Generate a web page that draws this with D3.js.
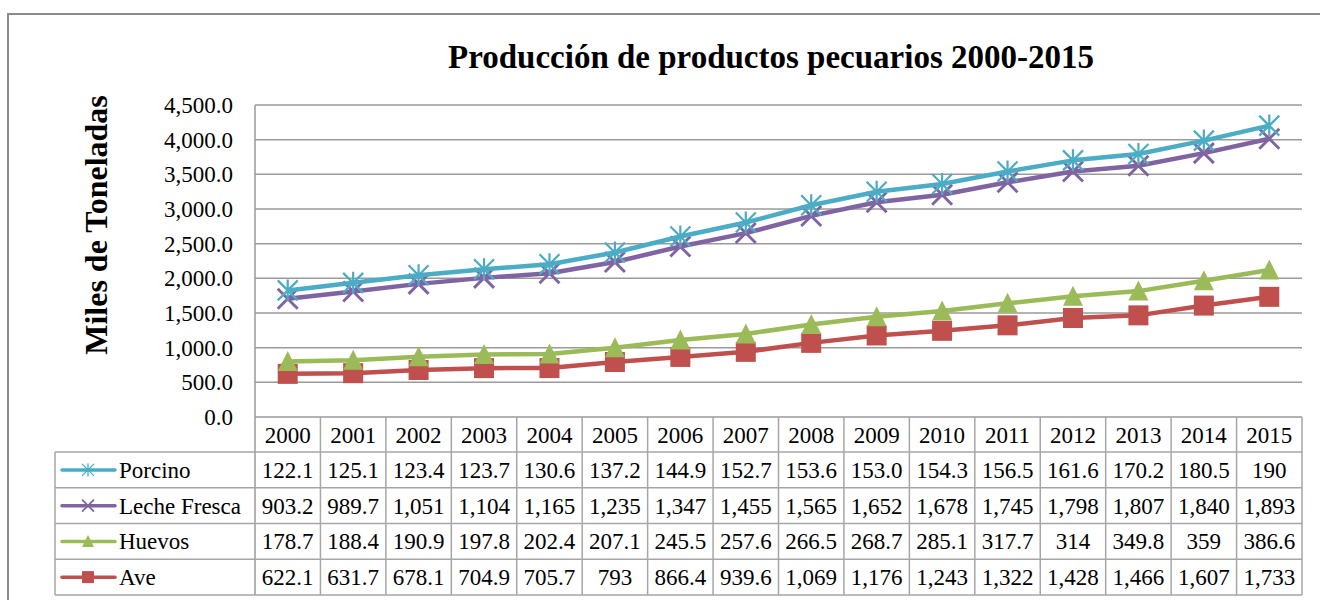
<!DOCTYPE html>
<html>
<head>
<meta charset="utf-8">
<script src="https://cdn.jsdelivr.net/npm/d3@7"></script>
<style>
  body { margin: 0; background: #fff; }
  svg { display: block; font-family: "Liberation Serif", "Times New Roman", serif; }
</style>
</head>
<body>
<script>
var width = 1320, height = 600

// data, as printed in the chart's data table
var years = ["2000", "2001", "2002", "2003", "2004", "2005", "2006", "2007",
             "2008", "2009", "2010", "2011", "2012", "2013", "2014", "2015"]
var porcino = ["122.1", "125.1", "123.4", "123.7", "130.6", "137.2", "144.9", "152.7",
               "153.6", "153.0", "154.3", "156.5", "161.6", "170.2", "180.5", "190"]
var lecheFresca = ["903.2", "989.7", "1,051", "1,104", "1,165", "1,235", "1,347", "1,455",
                   "1,565", "1,652", "1,678", "1,745", "1,798", "1,807", "1,840", "1,893"]
var huevos = ["178.7", "188.4", "190.9", "197.8", "202.4", "207.1", "245.5", "257.6",
              "266.5", "268.7", "285.1", "317.7", "314", "349.8", "359", "386.6"]
var ave = ["622.1", "631.7", "678.1", "704.9", "705.7", "793", "866.4", "939.6",
           "1,069", "1,176", "1,243", "1,322", "1,428", "1,466", "1,607", "1,733"]
var yTicks = [0, 500, 1000, 1500, 2000, 2500, 3000, 3500, 4000, 4500]

var series = [
    {key: "Porcino", labels: porcino, color: "#4BACC6", marker: "star"},
    {key: "Leche Fresca", labels: lecheFresca, color: "#8064A2", marker: "x"},
    {key: "Huevos", labels: huevos, color: "#9BBB59", marker: "triangle"},
    {key: "Ave", labels: ave, color: "#C0504D", marker: "square"}
]

function num(s) { return +s.replace(/,/g, "") }

// table rows for d3.stack (Ave at the bottom, Porcino on top)
var rows = years.map(function(y, i) {
    var r = {year: y}
    series.forEach(function(s) { r[s.key] = num(s.labels[i]) })
    return r
})
var stackKeys = series.map(function(s) { return s.key }).reverse()
var stacked = d3.stack().keys(stackKeys)(rows)

var plot = {left: 255, right: 1302, top: 105, bottom: 417}
var tableLeft = 55, rowTop = 452, tableBottom = 595
var rowH = (tableBottom - rowTop) / series.length

var x = d3.scaleBand()
    .domain(years)
    .range([plot.left, plot.right])
var y = d3.scaleLinear()
    .domain([0, 4500])
    .range([plot.bottom, plot.top])

var svg = d3.select("body").append("svg")
    .attr("width", width)
    .attr("height", height)

// outer frame
svg.append("path")
    .attr("d", "M8," + height + "V14H" + width)
    .attr("fill", "none")
    .attr("stroke", "#8c8c8c")
    .attr("stroke-width", 2)

svg.append("text")
    .attr("x", 771)
    .attr("y", 68)
    .attr("text-anchor", "middle")
    .attr("font-size", 33)
    .attr("font-weight", "bold")
    .text("Producción de productos pecuarios 2000-2015")

svg.append("text")
    .attr("transform", "translate(107," + 225 + ") rotate(-90)")
    .attr("text-anchor", "middle")
    .attr("font-size", 32)
    .attr("font-weight", "bold")
    .text("Miles de Toneladas")

// gridlines + y labels
var grid = svg.append("g")
grid.selectAll("line")
    .data(yTicks)
    .enter().append("line")
    .attr("x1", plot.left)
    .attr("x2", plot.right)
    .attr("y1", function(d) { return y(d) })
    .attr("y2", function(d) { return y(d) })
    .attr("stroke", "#9a9a9a")
    .attr("stroke-width", 1.5)

grid.selectAll("text")
    .data(yTicks)
    .enter().append("text")
    .attr("x", 233)
    .attr("y", function(d) { return y(d) })
    .attr("dy", "0.35em")
    .attr("text-anchor", "end")
    .attr("font-size", 23)
    .text(d3.format(",.1f"))

svg.append("line")
    .attr("x1", plot.left).attr("x2", plot.left)
    .attr("y1", plot.top).attr("y2", tableBottom)
    .attr("stroke", "#9a9a9a")
    .attr("stroke-width", 1.5)

// data table
var table = svg.append("g")
    .attr("stroke", "#a6a6a6")
    .attr("stroke-width", 1.5)
table.selectAll("line.h")
    .data(d3.range(series.length + 1))
    .enter().append("line")
    .attr("x1", tableLeft)
    .attr("x2", plot.right)
    .attr("y1", function(i) { return rowTop + i * rowH })
    .attr("y2", function(i) { return rowTop + i * rowH })
table.selectAll("line.v")
    .data(years)
    .enter().append("line")
    .attr("x1", function(d) { return x(d) + x.bandwidth() })
    .attr("x2", function(d) { return x(d) + x.bandwidth() })
    .attr("y1", plot.bottom)
    .attr("y2", tableBottom)
table.append("line")
    .attr("x1", tableLeft).attr("x2", tableLeft)
    .attr("y1", rowTop).attr("y2", tableBottom)

svg.append("g").selectAll("text")
    .data(years)
    .enter().append("text")
    .attr("x", function(d) { return x(d) + x.bandwidth() / 2 })
    .attr("y", (plot.bottom + rowTop) / 2)
    .attr("dy", "0.35em")
    .attr("text-anchor", "middle")
    .attr("font-size", 23)
    .text(function(d) { return d })

var rowG = svg.append("g").selectAll("g")
    .data(series)
    .enter().append("g")
    .attr("transform", function(d, i) { return "translate(0," + (rowTop + (i + 0.5) * rowH) + ")" })

rowG.selectAll("text.v")
    .data(function(d) { return d.labels })
    .enter().append("text")
    .attr("x", function(d, i) { return x(years[i]) + x.bandwidth() / 2 })
    .attr("dy", "0.35em")
    .attr("text-anchor", "middle")
    .attr("font-size", 23)
    .text(function(d) { return d })

rowG.append("text")
    .attr("x", 119)
    .attr("dy", "0.35em")
    .attr("font-size", 23)
    .text(function(d) { return d.key })

rowG.append("line")
    .attr("x1", 62).attr("x2", 115)
    .attr("stroke", function(d) { return d.color })
    .attr("stroke-width", 3.5)
    .attr("stroke-linecap", "round")

rowG.each(function(d) {
    drawMarker(d3.select(this), d, 88, 0, 12)
})

function drawMarker(g, s, cx, cy, size) {
    var r = size / 2
    if (s.marker === "square") {
        g.append("rect")
            .attr("x", cx - r).attr("y", cy - r)
            .attr("width", size).attr("height", size)
            .attr("fill", s.color)
    } else if (s.marker === "triangle") {
        g.append("path")
            .attr("d", "M" + cx + "," + (cy - r * 1.05) + "L" + (cx + r) + "," + (cy + r * 0.95) +
                "L" + (cx - r) + "," + (cy + r * 0.95) + "Z")
            .attr("fill", s.color)
    } else if (s.marker === "x") {
        g.append("path")
            .attr("d", "M" + (cx - r) + "," + (cy - r) + "L" + (cx + r) + "," + (cy + r) +
                "M" + (cx - r) + "," + (cy + r) + "L" + (cx + r) + "," + (cy - r))
            .attr("stroke", s.color)
            .attr("stroke-width", size / 7)
    } else {
        g.append("path")
            .attr("d", "M" + (cx - r) + "," + (cy - r) + "L" + (cx + r) + "," + (cy + r) +
                "M" + (cx - r) + "," + (cy + r) + "L" + (cx + r) + "," + (cy - r) +
                "M" + cx + "," + (cy - r * 1.1) + "L" + cx + "," + (cy + r * 1.1))
            .attr("stroke", s.color)
            .attr("stroke-width", size / 9)
    }
}

// stacked lines, bottom series first
var line = d3.line()
    .x(function(d) { return x(d.data.year) + x.bandwidth() / 2 })
    .y(function(d) { return y(d[1]) })

stacked.forEach(function(layer) {
    var s = series.find(function(d) { return d.key === layer.key })
    var g = svg.append("g")
    g.append("path")
        .attr("d", line(layer))
        .attr("fill", "none")
        .attr("stroke", s.color)
        .attr("stroke-width", 4.5)
        .attr("stroke-linejoin", "round")
    layer.forEach(function(p) {
        drawMarker(g, s, x(p.data.year) + x.bandwidth() / 2, y(p[1]), 20)
    })
})
</script>
</body>
</html>
